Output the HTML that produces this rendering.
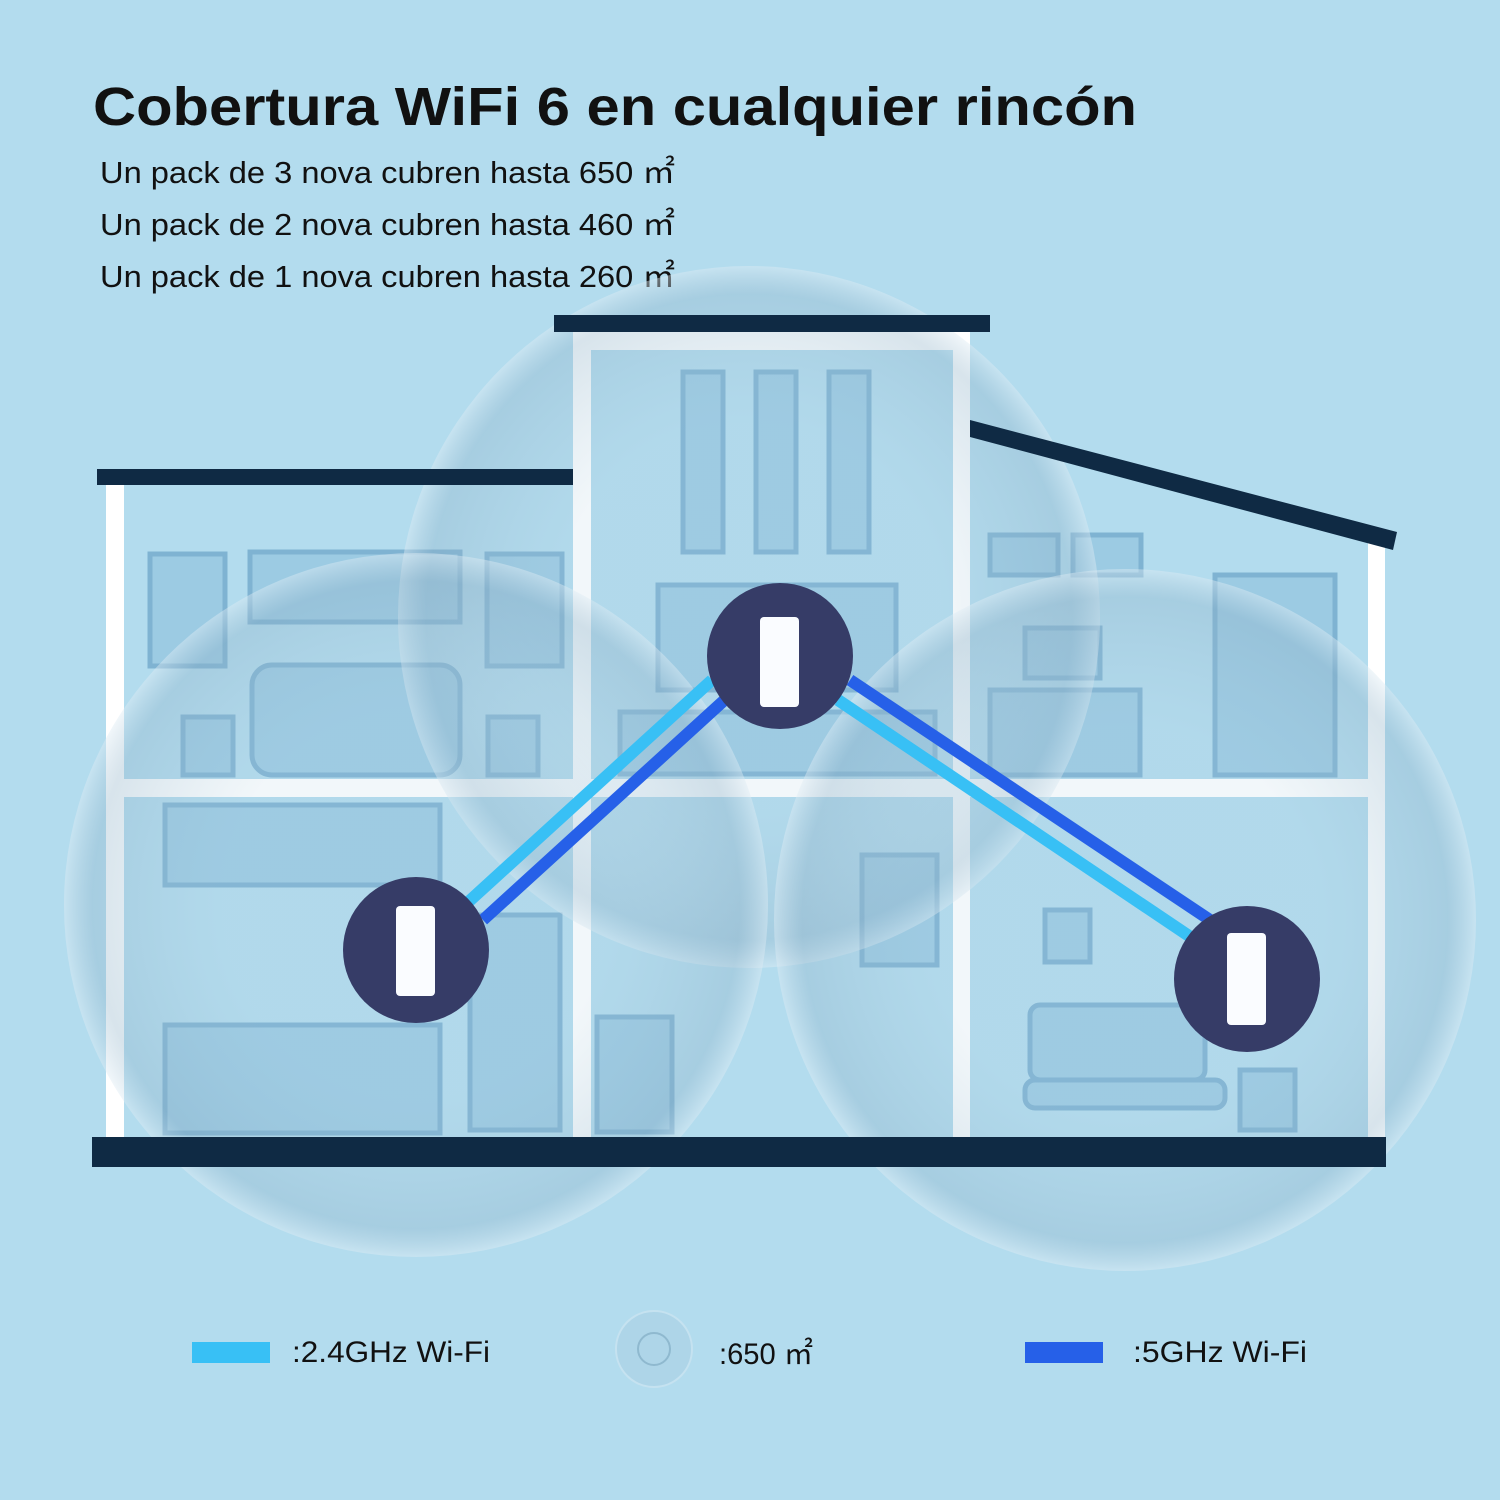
<!DOCTYPE html>
<html><head><meta charset="utf-8"><style>
html,body{margin:0;padding:0;background:#b3dcee;}
svg{display:block}
</style></head><body>
<svg width="1500" height="1500" viewBox="0 0 1500 1500" xmlns="http://www.w3.org/2000/svg">
<defs>
<radialGradient id="cg" cx="50%" cy="50%" r="50%">
<stop offset="0.55" stop-color="#a8c9dc" stop-opacity="0.15"/>
<stop offset="0.92" stop-color="#8fb2c8" stop-opacity="0.35"/>
<stop offset="1" stop-color="#dfecf4" stop-opacity="0.45"/>
</radialGradient>
</defs>
<rect width="1500" height="1500" fill="#b3dcee"/>
<text x="93" y="125" font-family="Liberation Sans, sans-serif" font-weight="bold" font-size="54" fill="#111" textLength="1044" lengthAdjust="spacingAndGlyphs">Cobertura WiFi 6 en cualquier rincón</text>
<g font-family="Liberation Sans, sans-serif" font-size="31" fill="#111">
<text x="100" y="183" textLength="575" lengthAdjust="spacingAndGlyphs">Un pack de 3 nova cubren hasta 650 ㎡</text>
<text x="100" y="235" textLength="575" lengthAdjust="spacingAndGlyphs">Un pack de 2 nova cubren hasta 460 ㎡</text>
<text x="100" y="287" textLength="575" lengthAdjust="spacingAndGlyphs">Un pack de 1 nova cubren hasta 260 ㎡</text>
</g>
<g fill="#9ccbe3" stroke="#7fb3d2" stroke-width="5">
<rect x="683" y="372" width="40" height="180"/><rect x="756" y="372" width="40" height="180"/><rect x="829" y="372" width="40" height="180"/>
<rect x="150" y="554" width="75" height="112"/><rect x="487" y="554" width="75" height="112"/>
<rect x="250" y="552" width="210" height="70"/>
<rect x="658" y="585" width="238" height="105"/>
<rect x="252" y="665" width="208" height="110" rx="20"/>
<rect x="183" y="717" width="50" height="58"/><rect x="488" y="717" width="50" height="58"/>
<rect x="620" y="712" width="315" height="62"/>
<rect x="990" y="535" width="68" height="40"/><rect x="1073" y="535" width="68" height="40"/>
<rect x="1215" y="575" width="120" height="200"/>
<rect x="1025" y="628" width="75" height="50"/>
<rect x="990" y="690" width="150" height="85"/>
<rect x="165" y="805" width="275" height="80"/>
<rect x="165" y="1025" width="275" height="108"/>
<rect x="470" y="915" width="90" height="215"/>
<rect x="597" y="1017" width="75" height="115"/>
<rect x="862" y="855" width="75" height="110"/>
<rect x="1045" y="910" width="45" height="52"/>
<rect x="1030" y="1005" width="175" height="75" rx="10"/>
<rect x="1025" y="1080" width="200" height="28" rx="10"/>
<rect x="1240" y="1070" width="55" height="60"/>
</g>
<g fill="#ffffff">
<rect x="106" y="485" width="18" height="652"/>
<rect x="573" y="332" width="18" height="805"/>
<rect x="953" y="332" width="17" height="805"/>
<rect x="1368" y="540" width="17" height="597"/>
<rect x="106" y="779" width="1279" height="18"/>
<rect x="573" y="332" width="397" height="18"/>
</g>
<circle cx="749" cy="617" r="351" fill="url(#cg)"/>
<circle cx="416" cy="905" r="352" fill="url(#cg)"/>
<circle cx="1125" cy="920" r="351" fill="url(#cg)"/>
<g fill="#0f2a44">
<rect x="97" y="469" width="476" height="16"/>
<rect x="554" y="315" width="436" height="17"/>
<polygon points="970,420 1397,532 1393,550 970,437"/>
<rect x="92" y="1137" width="1294" height="30"/>
</g>
<g stroke-width="12" stroke-linecap="butt">
<line x1="712" y1="680" x2="465" y2="905" stroke="#38c0f5"/>
<line x1="730" y1="695" x2="483" y2="920" stroke="#2660e8"/>
<line x1="850" y1="680" x2="1210" y2="920" stroke="#2660e8"/>
<line x1="838" y1="700" x2="1195" y2="940" stroke="#38c0f5"/>
</g>
<g fill="#363c67"><circle cx="780" cy="656" r="73"/><circle cx="416" cy="950" r="73"/><circle cx="1247" cy="979" r="73"/></g>
<g fill="#fafcff"><rect x="760" y="617" width="39" height="90" rx="4"/><rect x="396" y="906" width="39" height="90" rx="4"/><rect x="1227" y="933" width="39" height="92" rx="4"/></g>
<rect x="192" y="1342" width="78" height="21" fill="#38c0f5"/>
<rect x="1025" y="1342" width="78" height="21" fill="#2660e8"/>
<circle cx="654" cy="1349" r="38" fill="#aed5e8" stroke="#c5e2f0" stroke-width="2"/>
<circle cx="654" cy="1349" r="16" fill="none" stroke="#8fb9cf" stroke-width="2"/>
<g font-family="Liberation Sans, sans-serif" font-size="30" fill="#111">
<text x="292" y="1362" textLength="198" lengthAdjust="spacingAndGlyphs">:2.4GHz Wi-Fi</text>
<text x="719" y="1364" textLength="94" lengthAdjust="spacingAndGlyphs">:650 ㎡</text>
<text x="1133" y="1362" textLength="174" lengthAdjust="spacingAndGlyphs">:5GHz Wi-Fi</text>
</g>
</svg>
</body></html>
